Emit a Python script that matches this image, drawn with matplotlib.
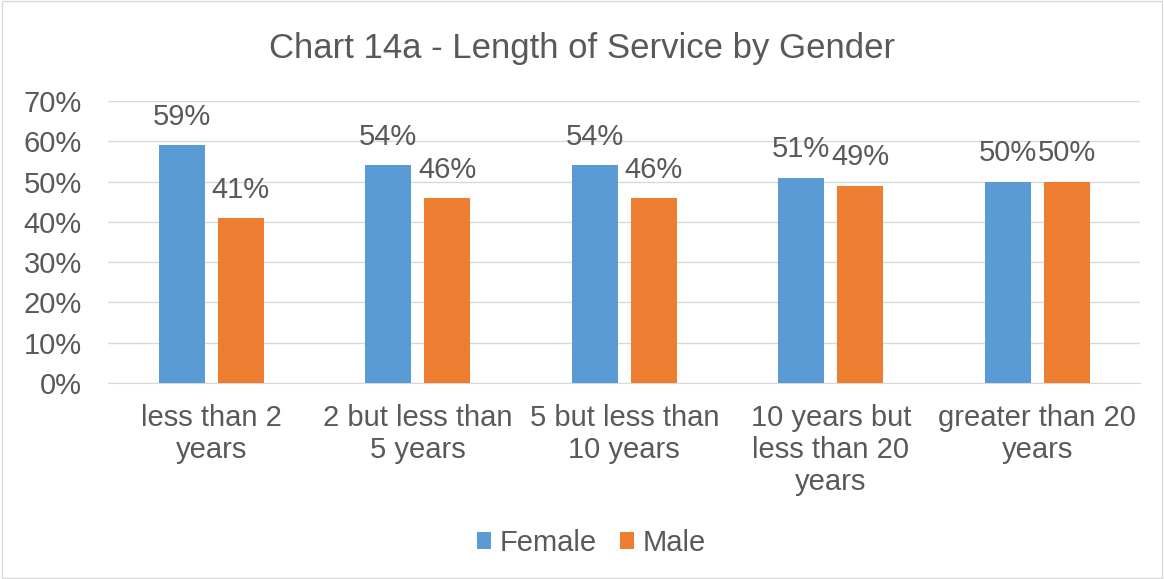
import matplotlib.pyplot as plt
import numpy as np

plt.rcParams['font.family'] = ['Liberation Sans', 'DejaVu Sans']

categories = ['less than 2\nyears', '2 but less than\n5 years', '5 but less than\n10 years',
              '10 years but\nless than 20\nyears', 'greater than 20\nyears']
female = [59, 54, 54, 51, 50]
male = [41, 46, 46, 49, 50]
yticks = [0, 10, 20, 30, 40, 50, 60, 70]

txt = '#595959'
fig = plt.figure(figsize=(11.64, 5.79), dpi=100)
ax = fig.add_axes([0.0928, 0.3385, 0.887, 0.487])

x = np.arange(len(categories))
w = 0.223
b1 = ax.bar(x - 0.143, female, w, color='#5B9BD5', label='Female', zorder=3)
b2 = ax.bar(x + 0.143, male, w, color='#ED7D31', label='Male', zorder=3)

# data labels above each bar
for bars in (b1, b2):
    for r in bars:
        ax.text(r.get_x() + r.get_width() / 2, r.get_height() + 7, '%d%%' % r.get_height(),
                ha='center', va='center', fontsize=21, color=txt)

ax.set_xlim(-0.5, len(categories) - 0.5)
ax.set_ylim(0, 70)
ax.set_yticks(yticks)
ax.set_yticklabels(['%d%%' % v for v in yticks], fontsize=21, color=txt)
ax.set_xticks(x)
ax.set_xticklabels(categories, fontsize=21, color=txt, linespacing=1.19)
ax.tick_params(axis='y', length=0, pad=19)
ax.tick_params(axis='x', length=0, pad=15)
ax.grid(axis='y', color='#D9D9D9', linewidth=1, zorder=0)
for s in ['top', 'right', 'left']:
    ax.spines[s].set_visible(False)
ax.spines['bottom'].set_color('#D9D9D9')

fig.text(0.5, 0.917, 'Chart 14a - Length of Service by Gender', ha='center', va='center',
         fontsize=25, color=txt)
fig.legend(handles=[b1, b2], loc='center', bbox_to_anchor=(0.508, 0.062), ncol=2, frameon=False,
           fontsize=21, handlelength=0.5, handleheight=0.5, handletextpad=0.28, columnspacing=0.8,
           labelcolor=txt)

fig.patches.append(plt.Rectangle((0.002, 0.002), 0.996, 0.996, transform=fig.transFigure,
                                 fill=False, edgecolor='#D9D9D9', linewidth=1))
fig.savefig('out.png', dpi=100)
